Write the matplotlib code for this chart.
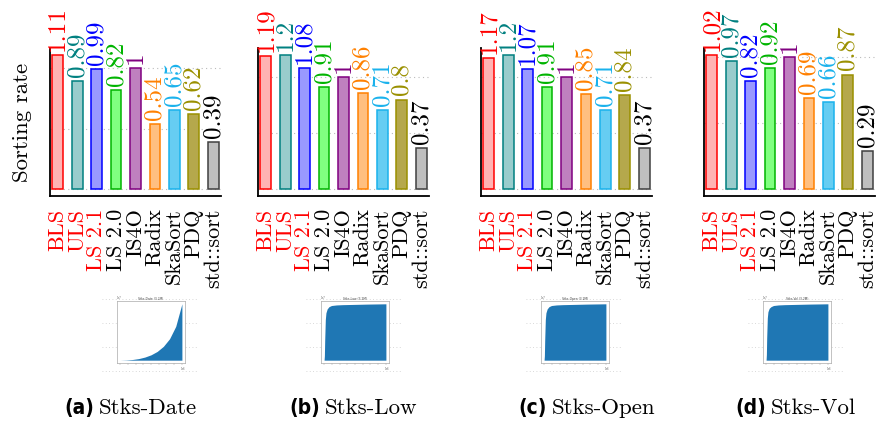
import matplotlib
matplotlib.use("Agg")
import matplotlib.pyplot as plt

# Sorting rate per algorithm on each stock dataset
algorithms = ["BLS", "ULS", "LS 2.1", "LS 2.0", "IS4O", "Radix", "SkaSort", "PDQ", "std::sort"]
rate_date = [1.11, 0.89, 0.99, 0.82, 1.0, 0.54, 0.65, 0.62, 0.39]
rate_low = [1.19, 1.2, 1.08, 0.91, 1.0, 0.86, 0.71, 0.8, 0.37]
rate_open = [1.17, 1.2, 1.07, 0.91, 1.0, 0.85, 0.71, 0.84, 0.37]
rate_vol = [1.02, 0.97, 0.82, 0.92, 1.0, 0.69, 0.66, 0.87, 0.29]
captions = ["(a)", "(b)", "(c)", "(d)"]
dataset_names = ["Stks-Date", "Stks-Low", "Stks-Open", "Stks-Vol"]
thumb_titles = ["Stks-Date (3.2M)", "Stks-Low (3.2M)", "Stks-Open (3.2M)", "Stks-Vol (3.2M)"]

# Key distribution thumbnails (normalised key vs. position)
date_pos = [0.0, 0.1, 0.2, 0.3, 0.4, 0.5, 0.6, 0.7, 0.8, 0.9, 1.0]
date_key = [0.0, 0.004, 0.012, 0.028, 0.055, 0.095, 0.155, 0.245, 0.38, 0.6, 1.0]
price_pos = [0.0, 0.005, 0.01, 0.02, 0.03, 0.05, 0.08, 0.12, 0.2, 0.3, 0.5, 0.7, 1.0]
low_key = [0.0, 0.08, 0.35, 0.72, 0.84, 0.91, 0.95, 0.97, 0.98, 0.985, 0.99, 0.995, 1.0]
open_key = [0.0, 0.08, 0.35, 0.72, 0.84, 0.91, 0.95, 0.97, 0.98, 0.985, 0.99, 0.995, 1.0]
vol_key = [0.0, 0.1, 0.4, 0.75, 0.86, 0.92, 0.95, 0.97, 0.98, 0.985, 0.99, 0.995, 1.0]

EDGE = ["#ff0000", "#008080", "#0000ff", "#00b400", "#800080",
        "#ff8000", "#1ab2ec", "#9a9000", "#404040"]
FILL = ["#ffb3b3", "#99cccc", "#9999ff", "#80ff80", "#bf80bf",
        "#ffbf80", "#66cdf2", "#b5a84c", "#bfbfbf"]
TEXT = EDGE[:-1] + ["#000000"]
TICK_COLORS = ["#ff0000"] * 3 + ["#000000"] * 6

SERIF = "cmr10"
W, H = 878, 429

fig = plt.figure(figsize=(W / 100, H / 100), dpi=100)


def px_rect(x, y, w, h):
    """Pixel box (top-left origin) -> figure fraction rect."""
    return [x / W, 1 - (y + h) / H, w / W, h / H]


panels = [rate_date, rate_low, rate_open, rate_vol]
axes_left = [50, 258, 481, 704]
xs = list(range(len(algorithms)))

for k, (vals, left) in enumerate(zip(panels, axes_left)):
    ax = fig.add_axes(px_rect(left, 48, 171, 148))
    top = max(vals)
    ax.set_ylim(-0.05 * top, 1.05 * top)
    ax.set_xlim(-0.4, len(algorithms) - 0.6)
    ax.set_yticks([0, 0.5, 1.0])
    ax.grid(axis="y", ls=(0, (1, 3)), lw=0.8, color="#bbbbbb")
    ax.set_axisbelow(True)
    ax.bar(xs, vals, width=0.55, color=FILL, edgecolor=EDGE, linewidth=1.1, zorder=2)
    for x, v, c in zip(xs, vals, TEXT):
        ax.annotate(f"{v:g}", (x, v), xytext=(0, 3), textcoords="offset points",
                    rotation=90, ha="center", va="bottom", color=c,
                    fontsize=18, family=SERIF, annotation_clip=False)
    for side in ("top", "right"):
        ax.spines[side].set_visible(False)
    for side in ("left", "bottom"):
        ax.spines[side].set_linewidth(1.3)
    ax.tick_params(axis="y", length=0, labelleft=False)
    ax.tick_params(axis="x", length=0, pad=9)
    ax.set_xticks(xs)
    ax.set_xticklabels(algorithms, rotation=90, family=SERIF, fontsize=16)
    for lab, c in zip(ax.get_xticklabels(), TICK_COLORS):
        lab.set_color(c)
    if k == 0:
        ax.set_ylabel("Sorting rate", family=SERIF, fontsize=16.5, labelpad=13)

# Thumbnails of each dataset's key distribution
thumb_left = [117, 321, 541, 763]
thumb_data = [(date_pos, date_key), (price_pos, low_key),
              (price_pos, open_key), (price_pos, vol_key)]
for tl, (px, py), title in zip(thumb_left, thumb_data, thumb_titles):
    bg = fig.add_axes(px_rect(tl - 15, 296, 96, 78))
    bg.set_xlim(0, 1)
    bg.set_ylim(3.12, -0.12)
    for row in [0, 1, 2, 3]:
        bg.axhline(row, ls=(0, (1, 3)), lw=0.6, color="#cccccc")
    bg.axis("off")

    th = fig.add_axes(px_rect(tl, 301, 68, 62))
    th.fill_between(px, py, 0, color="#1f77b4", lw=0)
    th.set_xlim(-0.05, 1.05)
    th.set_ylim(-0.05, 1.05)
    th.set_facecolor("white")
    for s in th.spines.values():
        s.set_color("#aaaaaa")
        s.set_linewidth(0.5)
    th.set_xticks([0, 0.125, 0.25, 0.375, 0.5, 0.625, 0.75, 0.875, 1.0])
    th.set_yticks([])
    th.tick_params(axis="x", length=1.2, width=0.3, color="#999999", labelbottom=False)
    th.set_title(title, fontsize=2.2, pad=1, color="#444444")
    th.text(0, 1.01, "1e7", transform=th.transAxes, fontsize=1.8, color="#666666", va="bottom")
    th.text(1.0, -0.06, "1e6", transform=th.transAxes, fontsize=1.8, color="#666666",
            ha="right", va="top")

# Sub-figure captions
cap_x = [94, 320, 547, 766]
for cx, tag, name in zip(cap_x, captions, dataset_names):
    fig.text(cx / W, 1 - 414 / H, tag, ha="right", va="baseline", fontsize=15,
             fontweight="bold", fontstretch="condensed", family="DejaVu Sans")
    fig.text((cx + 5) / W, 1 - 414 / H, name, ha="left", va="baseline",
             fontsize=16.5, family=SERIF)

fig.savefig("out.png", dpi=100, facecolor="white")
